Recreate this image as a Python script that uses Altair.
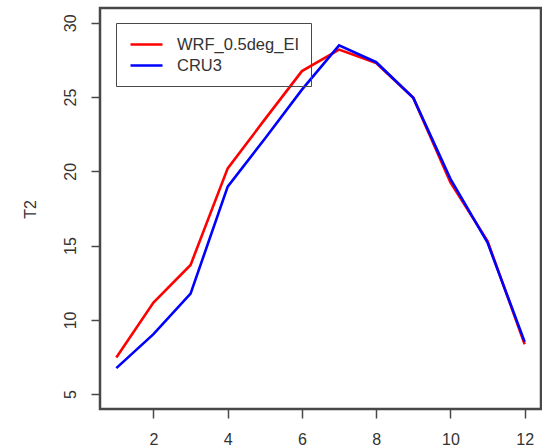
import altair as alt
import pandas as pd

months = list(range(1, 13))
series_names = ["WRF_0.5deg_EI", "CRU3"]
wrf_values = [7.47, 11.17, 13.70, 20.2, 23.5, 26.75, 28.2, 27.3, 24.95, 19.25, 15.3, 8.36]
cru_values = [6.75, 9.04, 11.77, 18.97, 22.2, 25.5, 28.48, 27.35, 24.95, 19.5, 15.2, 8.52]
x_ticks = [2, 4, 6, 8, 10, 12]
y_ticks = [5, 10, 15, 20, 25, 30]

rows = []
for name, vals in zip(series_names, [wrf_values, cru_values]):
    for m, v in zip(months, vals):
        rows.append({"month": m, "T2": v, "series": name})
df = pd.DataFrame(rows)

FONT = "Liberation Sans"
GRAY = "#484848"
TXT = "#333333"
W, H = 441, 401

lines = alt.Chart(df).mark_line(strokeWidth=2.6).encode(
    x=alt.X("month:Q",
            scale=alt.Scale(domain=[0.56, 12.44], nice=False, zero=False),
            axis=alt.Axis(values=x_ticks, title=None, grid=False, domain=False,
                          tickSize=9, tickWidth=1.5, tickColor=GRAY,
                          labelPadding=21, labelBaseline="middle", labelAlign="center",
                          labelFont=FONT, labelFontSize=16, labelColor=TXT)),
    y=alt.Y("T2:Q",
            scale=alt.Scale(domain=[4, 31], nice=False, zero=False),
            axis=alt.Axis(values=y_ticks, title="T2", grid=False, domain=False,
                          tickSize=9, tickWidth=1.5, tickColor=GRAY,
                          labelAngle=-90, labelPadding=21, labelBaseline="middle",
                          labelAlign="center", labelFont=FONT, labelFontSize=16,
                          labelColor=TXT,
                          titleX=-70, titleY=201, titleAngle=-90, titleAlign="center",
                          titleBaseline="middle", titleFont=FONT, titleFontSize=16,
                          titleFontWeight="normal", titleColor=TXT)),
    color=alt.Color("series:N",
                    scale=alt.Scale(domain=series_names, range=["#ff0000", "#0000ff"]),
                    sort=series_names,
                    legend=alt.Legend(title=None, orient="none", legendX=16, legendY=15,
                                      strokeColor=GRAY, padding=12,
                                      symbolType="M-0.875,0H3.125", symbolSize=256,
                                      symbolStrokeWidth=2.6, labelOffset=30,
                                      labelFont=FONT, labelFontSize=16.5,
                                      labelColor=TXT, rowPadding=3)),
    detail="series:N",
)

frame = alt.Chart(alt.Data(values=[{"k": 0}])).mark_rect(
    filled=False, stroke=GRAY, strokeWidth=2.5
).encode(
    x=alt.value(0), x2=alt.value(W), y=alt.value(0), y2=alt.value(H)
)

chart = alt.layer(lines, frame).properties(
    width=W, height=H,
    autosize=alt.AutoSizeParams(type="none"),
    padding={"left": 100, "top": 8, "right": 1, "bottom": 37},
    background="white",
).configure_view(
    stroke=None
)

chart.save("out.html", embed_options={"renderer": "svg", "actions": False})
